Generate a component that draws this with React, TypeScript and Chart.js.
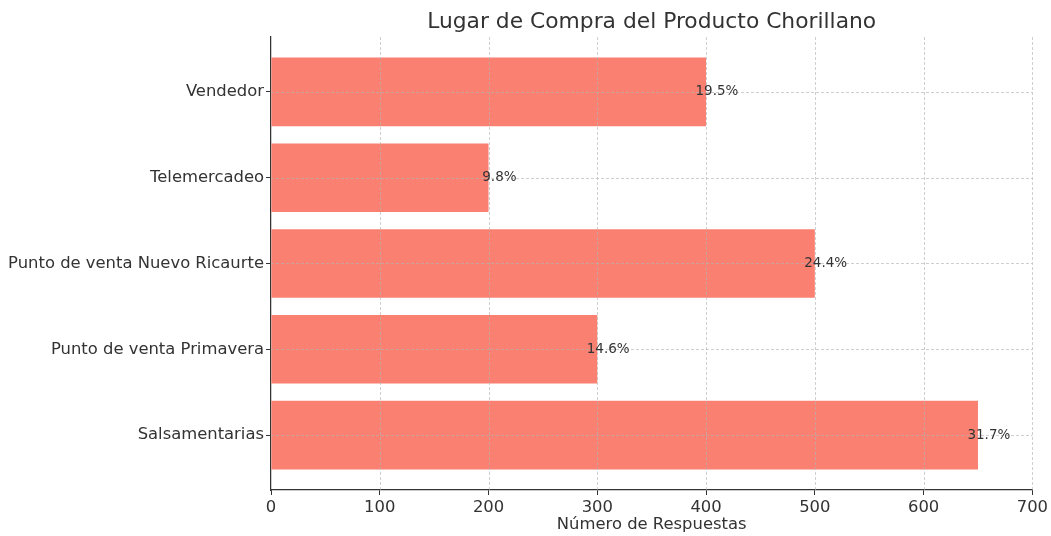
import React, { useEffect, useRef } from "react";
import { Chart, registerables } from "chart.js";

Chart.register(...registerables);

const categories = ["Salsamentarias", "Punto de venta Primavera", "Punto de venta Nuevo Ricaurte", "Telemercadeo", "Vendedor"];
const values = [650, 300, 500, 200, 400];
const percentLabels = ["31.7%", "14.6%", "24.4%", "9.8%", "19.5%"];
const xTicks = [0, 100, 200, 300, 400, 500, 600, 700];

const TITLE = "Lugar de Compra del Producto Chorillano";
const X_TITLE = "Número de Respuestas";
const FONT = "'DejaVu Sans', sans-serif";
const TEXT = "#333333";
const GRID = "rgba(180,180,180,0.8)";

export default function App() {
  const ref = useRef<HTMLCanvasElement>(null);
  useEffect(() => {
    document.body.style.margin = "0";
    const labelPlugin = {
      id: "labels",
      afterDatasetsDraw(chart: any) {
        const ctx = chart.ctx;
        const xs = chart.scales.x;
        const ys = chart.scales.y;
        const ca = chart.chartArea;
        ctx.save();
        ctx.strokeStyle = GRID;
        ctx.lineWidth = 0.8;
        ctx.setLineDash([3, 2]);
        xTicks.forEach((v) => {
          if (v === 0) return;
          const px = Math.round(xs.getPixelForValue(v)) + 0.5;
          ctx.beginPath();
          ctx.moveTo(px, ca.top);
          ctx.lineTo(px, ca.bottom);
          ctx.stroke();
        });
        categories.forEach((_, i) => {
          const py = Math.round(ys.getPixelForValue(i)) + 0.5;
          ctx.beginPath();
          ctx.moveTo(ca.left, py);
          ctx.lineTo(ca.right, py);
          ctx.stroke();
        });
        ctx.restore();
      },
      afterDraw(chart: any) {
        const ctx = chart.ctx;
        const xs = chart.scales.x;
        const ys = chart.scales.y;
        ctx.save();
        ctx.fillStyle = TEXT;
        ctx.font = `13.5px ${FONT}`;
        ctx.textAlign = "center";
        ctx.textBaseline = "middle";
        values.forEach((v, i) => {
          ctx.fillText(percentLabels[i], xs.getPixelForValue(v + 10), ys.getPixelForValue(i));
        });
        const ca = chart.chartArea;
        ctx.font = `21.8px ${FONT}`;
        ctx.fillText(TITLE, (ca.left + ca.right) / 2, 22);
        ctx.font = `16.4px ${FONT}`;
        ctx.fillText(X_TITLE, (ca.left + ca.right) / 2, 525);
        ctx.restore();
      },
    };
    const gridOpts = {
      color: GRID,
      lineWidth: 0.8,
      offset: false,
      drawOnChartArea: false,
      tickColor: "#333",
      tickLength: 5,
      tickWidth: 1,
    };
    const chart = new Chart(ref.current!, {
      type: "bar",
      data: {
        datasets: [
          {
            data: values.map((v, i) => ({ x: v, y: i })),
            backgroundColor: "#FA8072",
            borderWidth: 0,
            barPercentage: 0.8,
            categoryPercentage: 1,
          },
        ],
      },
      options: {
        indexAxis: "y",
        animation: false,
        responsive: false,
        layout: { padding: { top: 37, right: 18, left: 0, bottom: 0 } },
        plugins: { legend: { display: false }, tooltip: { enabled: false }, title: { display: false } },
        scales: {
          x: {
            type: "linear",
            min: 0,
            max: 700,
            offset: false,
            z: 1,
            afterBuildTicks: (s: any) => {
              s.ticks = xTicks.map((v) => ({ value: v }));
            },
            afterFit: (s: any) => {
              s.height = 46;
            },
            ticks: { color: TEXT, font: { family: FONT, size: 16.4 }, padding: 3 },
            grid: gridOpts,
            border: { display: true, color: "#333", width: 1.25 },
          },
          y: {
            type: "linear",
            min: -0.64,
            max: 4.64,
            offset: false,
            z: 1,
            afterBuildTicks: (s: any) => {
              s.ticks = categories.map((_, i) => ({ value: i }));
            },
            afterFit: (s: any) => {
              s.width = 271;
            },
            ticks: {
              color: TEXT,
              font: { family: FONT, size: 16.4 },
              padding: 2,
              callback: (v: any) => categories[v as number] ?? "",
            },
            grid: gridOpts,
            border: { display: true, color: "#333", width: 1.25 },
          },
        },
      },
      plugins: [labelPlugin],
    } as any);
    return () => chart.destroy();
  }, []);
  return <canvas ref={ref} width={1051} height={536} style={{ display: "block" }} />;
}
